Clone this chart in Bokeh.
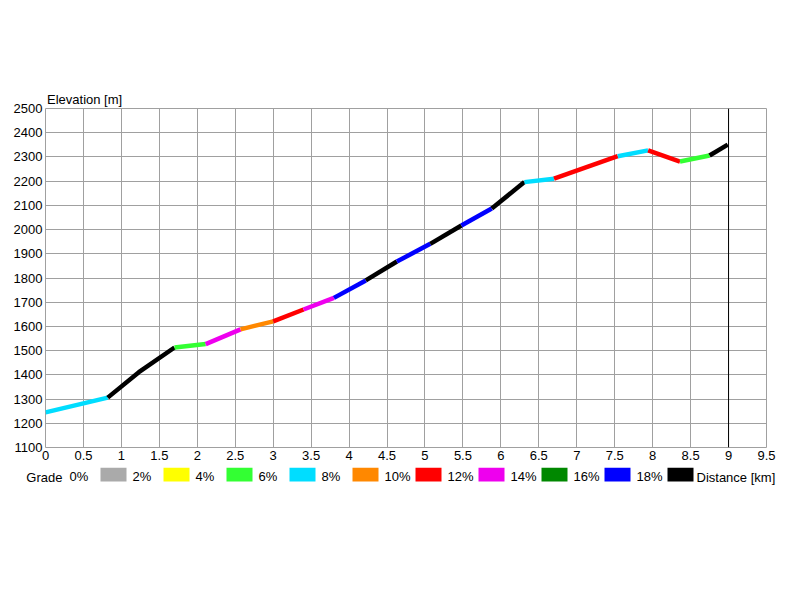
from bokeh.plotting import figure
from bokeh.models import Range1d, FixedTicker, Span, ColumnDataSource, LinearAxis
from bokeh.layouts import column
from bokeh.embed import file_html
from bokeh.resources import INLINE
from bokeh.core.properties import value

# ---- data ----
distance_km = [0.00, 0.82, 1.23, 1.70, 2.11, 2.57, 3.00, 3.40, 3.80, 4.22, 4.63,
               5.07, 5.48, 5.88, 6.31, 6.70, 7.54, 7.94, 8.36, 8.75, 8.99]
elevation_m = [1245, 1306, 1411, 1513, 1527, 1588, 1621, 1670, 1718, 1790, 1868,
               1941, 2017, 2087, 2196, 2210, 2303, 2327, 2281, 2306, 2351]
# grade class (lower bound, %) of each segment between consecutive points
segment_grade_class = [6, 18, 18, 4, 12, 8, 10, 12, 16, 18,
                       16, 18, 16, 18, 6, 10, 6, 10, 4, 18]

grade_classes = [0, 2, 4, 6, 8, 10, 12, 14, 16, 18]
grade_labels = ["0%", "2%", "4%", "6%", "8%", "10%", "12%", "14%", "16%", "18%"]
grade_colors = ["#aaaaaa", "#ffff00", "#33ff33", "#00ddff", "#ff8800",
                "#ff0000", "#ee00ee", "#008800", "#0000ff", "#000000"]

x_ticks = [0, 0.5, 1, 1.5, 2, 2.5, 3, 3.5, 4, 4.5, 5, 5.5, 6, 6.5, 7, 7.5, 8, 8.5, 9, 9.5]
x_tick_labels = ["0", "0.5", "1", "1.5", "2", "2.5", "3", "3.5", "4", "4.5", "5",
                 "5.5", "6", "6.5", "7", "7.5", "8", "8.5", "9", "9.5"]
y_ticks = [1100, 1200, 1300, 1400, 1500, 1600, 1700, 1800, 1900, 2000, 2100,
           2200, 2300, 2400, 2500]
marker_km = 9

y_title = "Elevation [m]"
x_title = "Distance [km]"
legend_title = "Grade"

FONT = "Liberation Sans"
FS = "13px"
GRID = "#a0a0a0"

W = 792
BL, BR = 45, 26
p = figure(width=W, height=467, x_range=Range1d(x_ticks[0], x_ticks[-1]),
           y_range=Range1d(y_ticks[0], y_ticks[-1]),
           output_backend="svg", toolbar_location=None,
           title=y_title, title_location="above",
           min_border_left=BL, min_border_right=BR, min_border_top=108,
           min_border_bottom=20)
p.title.align = "left"
p.title.offset = 1.5
p.title.standoff = 3
p.title.text_font = FONT
p.title.text_font_size = FS
p.title.text_font_style = "normal"
p.title.text_color = "black"

p.background_fill_color = "white"
p.border_fill_color = "white"
p.outline_line_color = GRID
p.outline_line_width = 1


def plain_axis(ax, standoff):
    ax.axis_line_color = None
    ax.major_tick_in = 0
    ax.major_tick_out = 0
    ax.minor_tick_in = 0
    ax.minor_tick_out = 0
    ax.major_label_text_font = FONT
    ax.major_label_text_font_size = FS
    ax.major_label_text_color = "black"
    ax.major_label_standoff = standoff


p.xaxis.ticker = FixedTicker(ticks=x_ticks)
p.xaxis.major_label_overrides = {t: l for t, l in zip(x_ticks, x_tick_labels)}
p.yaxis.ticker = FixedTicker(ticks=y_ticks)
p.xgrid.ticker = FixedTicker(ticks=x_ticks)
p.ygrid.ticker = FixedTicker(ticks=y_ticks)
for ax in (p.xaxis[0], p.yaxis[0]):
    plain_axis(ax, 3)
p.grid.grid_line_color = GRID
p.grid.grid_line_alpha = 1.0
p.grid.grid_line_width = 1

# group consecutive segments of the same grade class into runs
color_of = dict(zip(grade_classes, grade_colors))
xs, ys, cs = [], [], []
cur = None
for i, g in enumerate(segment_grade_class):
    if cur is None or g != cur:
        xs.append([distance_km[i]])
        ys.append([elevation_m[i]])
        cs.append(color_of[g])
        cur = g
    xs[-1].append(distance_km[i + 1])
    ys[-1].append(elevation_m[i + 1])

src = ColumnDataSource(dict(xs=xs, ys=ys, color=cs))
p.multi_line(xs="xs", ys="ys", line_color="color", line_width=4.5, source=src)

p.add_layout(Span(location=marker_km, dimension="height", line_color="black",
                  line_width=1))

# ---- legend row (frame aligned with the chart; x in page pixels) ----
LH = 40
lg = figure(width=W, height=LH, x_range=Range1d(BL, W - BR), y_range=Range1d(0, LH),
            output_backend="svg", toolbar_location=None,
            x_axis_location=None, y_axis_location=None,
            min_border_left=BL, min_border_right=BR, min_border_top=0,
            min_border_bottom=0)
lg.outline_line_color = None
lg.grid.visible = False
lg.background_fill_color = "white"
lg.border_fill_color = "white"

n = len(grade_labels)
step = 63
label_x = [69 + step * i for i in range(n)]
swatch_x = [113 + step * i for i in range(n)]
base_y = LH - 9.3
sw_y = LH - 7

lg.rect(x=swatch_x, y=[sw_y] * n, width=26, height=14, fill_color=grade_colors,
        line_color=None)
lg.text(x=label_x, y=[base_y] * n, text=grade_labels,
        text_font=value(FONT), text_font_size=FS, text_color="black",
        text_baseline="alphabetic", text_align="left")

# texts that run past the frame edges: labels of the side axes of the legend row,
# pulled in towards the frame with a negative standoff
row_mid = round(base_y + 4.65, 2)
for side, txt, standoff in (("left", legend_title, -17), ("right", x_title, -70)):
    ax = LinearAxis(ticker=FixedTicker(ticks=[row_mid]),
                    major_label_overrides={row_mid: txt})
    plain_axis(ax, standoff)
    lg.add_layout(ax, side)

layout = column(p, lg, spacing=0)
open("out.html", "w").write(file_html(layout, INLINE))
